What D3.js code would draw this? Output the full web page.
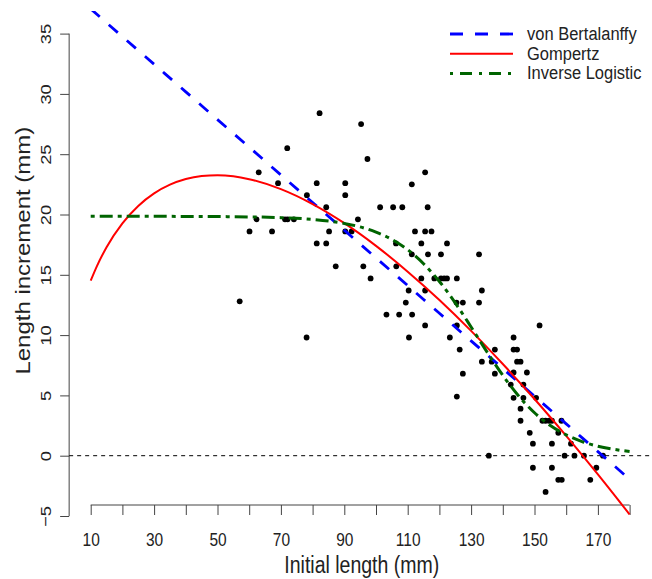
<!DOCTYPE html>
<html>
<head>
<meta charset="utf-8">
<script src="https://cdn.jsdelivr.net/npm/d3@7"></script>
<style>
  body { margin: 0; background: #fff; }
  svg { font-family: 'Liberation Sans', Arial, sans-serif; }
</style>
</head>
<body>
<svg id="chart" width="652" height="579"></svg>
<script>
// observed points: initial length (mm) and increment (mm)
const obsLength = [82.2, 95.3, 72.0, 63.0, 69.1, 81.3, 90.3, 90.3, 78.2, 84.3, 62.3, 71.3, 72.1, 74.1, 94.3,
  60.1, 67.2, 85.2, 90.3, 92.3, 81.3, 84.3, 87.3, 96.0, 57.0, 78.1, 101.3, 105.4, 108.3, 116.3, 97.3,
  115.5, 111.3, 112.3, 115.5, 117.5, 106.3, 114.3, 122.4, 111.3, 116.4, 120.5, 132.5, 106.4, 98.3, 114.3,
  118.4, 120.5, 121.5, 122.4, 125.5, 110.3, 115.5, 133.4, 109.4, 125.4, 127.4, 132.5, 103.3, 107.3, 111.4,
  115.5, 125.5, 110.4, 123.3, 126.4, 137.5, 133.4, 136.5, 137.5, 127.4, 125.5, 151.6, 143.4, 143.4, 144.5,
  144.5, 145.6, 143.4, 147.6, 142.5, 146.5, 143.4, 146.5, 150.5, 145.6, 145.6, 152.5, 153.5, 154.6, 155.5,
  158.5, 148.5, 157.5, 149.5, 155.5, 161.5, 135.6, 159.5, 162.6, 165.6, 171.6, 149.5, 155.5, 169.5, 157.5,
  158.6, 167.6, 153.5];
const obsIncrement = [28.4, 27.5, 25.5, 23.5, 22.6, 22.6, 22.6, 21.6, 21.6, 20.6, 19.6, 19.6, 19.6, 19.6, 19.6,
  18.6, 18.6, 18.6, 18.6, 18.6, 17.6, 17.6, 15.7, 15.7, 12.8, 9.8, 20.6, 20.6, 20.6, 20.6, 24.6,
  23.5, 22.5, 18.6, 18.6, 18.6, 17.6, 17.6, 17.6, 16.7, 16.7, 16.7, 16.7, 15.7, 14.7, 14.7,
  14.7, 14.7, 14.7, 14.7, 14.7, 13.7, 13.7, 13.7, 12.7, 12.7, 12.7, 12.7, 11.7, 11.7, 11.7,
  10.8, 10.8, 9.8, 9.8, 8.8, 8.8, 7.8, 7.8, 6.8, 6.8, 4.9, 10.8, 9.8, 8.8, 8.8,
  7.8, 7.8, 6.9, 6.9, 5.9, 5.9, 4.8, 4.8, 4.8, 3.9, 2.9, 2.9, 2.9, 2.9, 2.9,
  2.9, 1.9, 1.9, 1.0, 1.0, 1.0, 0, 0, 0, 0, 0, -1.0, -1.0, -1.0, -2.0,
  -2.0, -2.0, -3.0];

// fitted curves
const vbLength = [10, 20, 30, 40, 50, 60, 70, 80, 90, 100, 110, 120, 130, 140, 150, 160, 170, 180];
const vbIncrement = [37.05, 34.75, 32.46, 30.17, 27.87, 25.58, 23.28, 20.99, 18.70, 16.40, 14.11, 11.81, 9.52, 7.23, 4.93, 2.64, 0.34, -1.95];

const gzLength = [10, 12, 15, 20, 25, 30, 35, 40, 45, 50, 55, 60, 70, 80, 90, 100, 110, 120, 130, 140, 150, 160, 170, 180];
const gzIncrement = [14.51, 15.74, 17.29, 19.27, 20.71, 21.75, 22.47, 22.94, 23.19, 23.26, 23.17, 22.93, 22.10, 20.86, 19.28, 17.40, 15.26, 12.91, 10.35, 7.60, 4.70, 1.64, -1.55, -4.87];

const ilLength = [10, 20, 30, 40, 50, 60, 70, 80, 90, 95, 100, 105, 110, 115, 120, 125, 130, 135, 140, 145, 150, 155, 160, 165, 170, 175, 180];
const ilIncrement = [19.85, 19.85, 19.85, 19.84, 19.83, 19.80, 19.74, 19.59, 19.26, 18.97, 18.54, 17.94, 17.08, 15.92, 14.45, 12.67, 10.67, 8.61, 6.66, 4.95, 3.56, 2.50, 1.73, 1.17, 0.79, 0.53, 0.35];

const xTicks = [10, 20, 30, 40, 50, 60, 70, 80, 90, 100, 110, 120, 130, 140, 150, 160, 170, 180];
const xLabels = [10, 30, 50, 70, 90, 110, 130, 150, 170];
const yTicks = [-5, 0, 5, 10, 15, 20, 25, 30, 35];

const legendNames = ['von Bertalanffy', 'Gompertz', 'Inverse Logistic'];
const legendColors = ['#0000ff', '#ff0000', '#006400'];
const legendDash = ['12,12', null, '4,5,13,5'];

const svg = d3.select('#chart');

const x = d3.scaleLinear().domain([10, 180]).range([90.7, 629.6]);
const y = d3.scaleLinear().domain([-5, 35]).range([516, 33.6]);

// plot region (R style, 4% padding)
const xLo = 3.2, xHi = 186.8;
// the picture is a bit taller than wide, text looks stretched
const stretch = 1.18;

svg.append('clipPath').attr('id', 'plotclip')
  .append('rect')
  .attr('x', x(xLo)).attr('y', 11)
  .attr('width', x(xHi) - x(xLo)).attr('height', 540);

const axisColor = '#444';
const textColor = '#222';

// x axis
const xAxisY = 505;
const gx = svg.append('g').attr('transform', `translate(0,${xAxisY})`)
  .call(d3.axisBottom(x).tickValues(xTicks).tickSize(10).tickSizeOuter(0)
    .tickFormat(d => xLabels.includes(d) ? d : ''));
gx.select('.domain').remove();
gx.append('line')
  .attr('x1', x(10)).attr('x2', x(180))
  .attr('stroke', axisColor);
gx.selectAll('.tick line').attr('stroke', axisColor);
gx.selectAll('.tick text')
  .attr('y', 0).attr('dy', null)
  .attr('transform', `translate(0,41) scale(1,${stretch})`)
  .attr('fill', textColor)
  .style('font-size', '15.5px')
  .style('font-family', "'Liberation Sans', Arial, sans-serif");

// y axis
const yAxisX = x(xLo);
const gy = svg.append('g').attr('transform', `translate(${yAxisX},0)`)
  .call(d3.axisLeft(y).tickValues(yTicks).tickSize(9).tickSizeOuter(0));
gy.select('.domain').remove();
gy.append('line')
  .attr('y1', y(-5)).attr('y2', y(35))
  .attr('stroke', axisColor);
gy.selectAll('.tick line').attr('stroke', axisColor);
gy.selectAll('.tick text')
  .attr('x', null).attr('dy', null)
  .attr('text-anchor', 'middle')
  .attr('transform', `translate(-18,0) rotate(-90) scale(${stretch},1)`)
  .attr('fill', textColor)
  .style('font-size', '15.5px')
  .style('font-family', "'Liberation Sans', Arial, sans-serif");

// axis titles
svg.append('text')
  .attr('transform', `translate(${x(95.5)},573) scale(1,${stretch + 0.07})`)
  .attr('text-anchor', 'middle')
  .attr('fill', textColor)
  .style('font-size', '19.5px')
  .text('Initial length (mm)');

svg.append('text')
  .attr('transform', `translate(30,${y(17)}) rotate(-90) scale(${stretch + 0.05},1)`)
  .attr('text-anchor', 'middle')
  .attr('fill', textColor)
  .style('font-size', '19.5px')
  .text('Length increment (mm)');

// reference line at zero
svg.append('line')
  .attr('x1', x(xLo)).attr('x2', x(xHi))
  .attr('y1', y(0)).attr('y2', y(0))
  .attr('stroke', '#000')
  .attr('stroke-width', 1)
  .attr('stroke-dasharray', '4,4');

const plot = svg.append('g').attr('clip-path', 'url(#plotclip)');

// points
plot.selectAll('circle')
  .data(obsLength.map((d, i) => [d, obsIncrement[i]]))
  .join('circle')
  .attr('cx', d => x(d[0]))
  .attr('cy', d => y(d[1]))
  .attr('r', 2.9)
  .attr('fill', '#000');

const line = d3.line().x(d => x(d[0])).y(d => y(d[1])).curve(d3.curveMonotoneX);

const curves = [
  { xs: vbLength, ys: vbIncrement },
  { xs: gzLength, ys: gzIncrement },
  { xs: ilLength, ys: ilIncrement }
];
const widths = [2.8, 2, 3];

curves.forEach((c, i) => {
  plot.append('path')
    .attr('d', line(c.xs.map((d, j) => [d, c.ys[j]])))
    .attr('fill', 'none')
    .attr('stroke', legendColors[i])
    .attr('stroke-width', widths[i])
    .attr('stroke-dasharray', legendDash[i]);
});

// legend
const lg = svg.append('g');
legendNames.forEach((name, i) => {
  const ly = 34 + i * 19.7;
  lg.append('line')
    .attr('x1', 450).attr('x2', 513)
    .attr('y1', ly).attr('y2', ly)
    .attr('stroke', legendColors[i])
    .attr('stroke-width', widths[i])
    .attr('stroke-dasharray', i === 0 ? '13,12' : i === 2 ? '3,7,12,7' : null);
  lg.append('text')
    .attr('transform', `translate(527,${ly + 6}) scale(1,1.1)`)
    .attr('fill', textColor)
    .style('font-size', '16.5px')
    .text(name);
});
</script>
</body>
</html>
